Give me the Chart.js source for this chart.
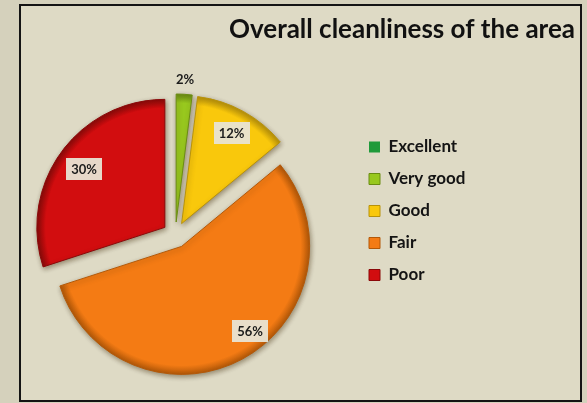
<!DOCTYPE html>
<html>
<head>
<meta charset="utf-8">
<script src="https://cdn.jsdelivr.net/npm/chart.js@4.4.1/dist/chart.umd.min.js"></script>
<style>
  html, body { margin:0; padding:0; width:587px; height:403px; overflow:hidden; background:#d5d1bc; }
  .panel { position:absolute; left:19px; top:4px; width:563px; height:398px; box-sizing:border-box;
           border:2.5px solid #141414; background:#dedac5; }
  .wrap  { position:absolute; left:-40px; top:0; width:615px; height:403px; }
</style>
</head>
<body>
<div class="panel"></div>
<div class="wrap"><canvas id="pie" width="615" height="403"></canvas></div>
<script>
'use strict';
// ── Overall cleanliness of the area ─────────────────────

const categories = ['Excellent', 'Very good', 'Good', 'Fair', 'Poor'];
const shares     = [0, 2, 12, 56, 30];
const colors     = ['#1f9a3a', '#98c81e', '#f9c80c', '#f47b14', '#d20d0f'];
const edges      = ['#136024', '#6a8c12', '#b8920a', '#b35808', '#8a0809'];

// label placement (fraction of radius, angle nudge in degrees)
const labelDist  = [0, 1.12, 0.81, 0.85, 0.78];
const labelNudge = [0, 0, 0, -9, 0];

const FONT = 'Lato, "Open Sans", sans-serif';

// Chart.js moves a slice by offset/4 and grows big slices; the original
// moves every slice out by the full offset at the same radius.
function explodedArc(ctx) {
  const p = this.getProps(['x', 'y', 'startAngle', 'endAngle', 'outerRadius', 'circumference']);
  if (!p.circumference) return;
  const o = this.options;
  const mid = (p.startAngle + p.endAngle) / 2;
  const cx = p.x + Math.cos(mid) * o.offset;
  const cy = p.y + Math.sin(mid) * o.offset;
  const g = ctx.createRadialGradient(cx, cy, 0, cx, cy, p.outerRadius);
  g.addColorStop(0, o.backgroundColor);
  g.addColorStop(0.93, o.backgroundColor);
  g.addColorStop(1, o.borderColor);
  ctx.save();
  ctx.beginPath();
  ctx.moveTo(cx, cy);
  ctx.arc(cx, cy, p.outerRadius, p.startAngle, p.endAngle);
  ctx.closePath();
  ctx.fillStyle = g;
  ctx.fill();
  if (o.borderWidth) {
    ctx.lineWidth = o.borderWidth;
    ctx.strokeStyle = o.borderColor;
    ctx.lineJoin = 'round';
    ctx.stroke();
  }
  ctx.restore();
}

const shadow = {
  id: 'shadow',
  beforeDatasetsDraw(chart) {
    chart.getDatasetMeta(0).data.forEach(a => { a.draw = explodedArc; });
    const ctx = chart.ctx;
    ctx.save();
    ctx.shadowColor = 'rgba(60,40,10,0.45)';
    ctx.shadowBlur = 5;
    ctx.shadowOffsetX = 1;
    ctx.shadowOffsetY = 2;
  },
  afterDatasetsDraw(chart) { chart.ctx.restore(); },
};

const pctLabels = {
  id: 'pctLabels',
  afterDraw(chart) {
    const ctx = chart.ctx;
    const meta = chart.getDatasetMeta(0);
    ctx.save();
    ctx.font = 'bold 13px ' + FONT;
    ctx.textAlign = 'center';
    ctx.textBaseline = 'middle';
    meta.data.forEach((arc, i) => {
      if (!shares[i]) return;
      const p = arc.getProps(['x', 'y', 'startAngle', 'endAngle', 'outerRadius']);
      const mid = (p.startAngle + p.endAngle) / 2 + labelNudge[i] * Math.PI / 180;
      const d = arc.options.offset + p.outerRadius * labelDist[i];
      const x = p.x + Math.cos(mid) * d;
      const y = p.y + Math.sin(mid) * d;
      const txt = shares[i] + '%';
      if (labelDist[i] < 1) {
        const w = ctx.measureText(txt).width + 10;
        ctx.fillStyle = 'rgba(232,228,212,0.95)';
        ctx.fillRect(Math.round(x - w / 2), Math.round(y - 11), Math.round(w), 22);
      }
      ctx.fillStyle = '#1c1c1c';
      ctx.fillText(txt, x, y + 1);
    });
    ctx.restore();
  },
};

// widen the legend box so it sits where the original one is
const legendWidth = {
  id: 'legendWidth',
  beforeInit(chart) {
    const fit = chart.legend.fit;
    chart.legend.fit = function () {
      fit.call(this);
      this.width = 221;
    };
  },
};

new Chart(document.getElementById('pie'), {
  type: 'pie',
  data: {
    labels: categories,
    datasets: [{
      data: shares,
      backgroundColor: colors,
      borderColor: edges,
      borderWidth: [0, 1, 1, 1, 1],
      offset: 13,
    }],
  },
  options: {
    responsive: false,
    animation: false,
    layout: { padding: { left: 36.7, right: 0, top: 0, bottom: 33 } },
    plugins: {
      tooltip: { enabled: false },
      title: {
        display: true,
        text: 'Overall cleanliness of the area',
        align: 'end',
        color: '#111',
        font: { family: FONT, size: 26, weight: 'bold', lineHeight: 1.2 },
        padding: { top: 14.4, bottom: 54.4 },
      },
      legend: {
        position: 'right',
        align: 'start',
        fullSize: false,
        title: { display: true, text: '', font: { size: 10, lineHeight: 1 }, padding: { top: 13.5, bottom: 0 } },
        labels: {
          boxWidth: 11, boxHeight: 11, padding: 15,
          color: '#141414',
          font: { family: FONT, size: 17, weight: 'bold' },
        },
      },
    },
  },
  plugins: [shadow, pctLabels, legendWidth],
});
</script>
</body>
</html>
